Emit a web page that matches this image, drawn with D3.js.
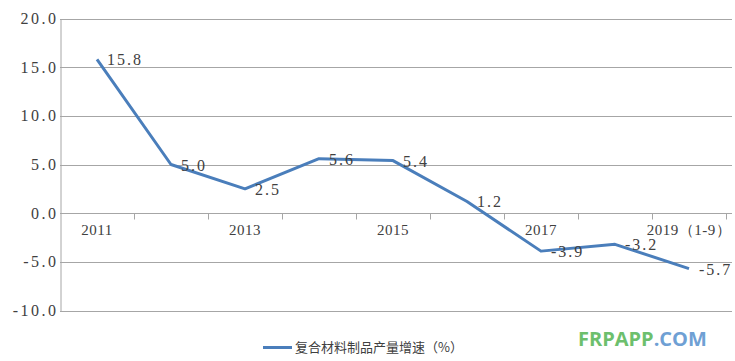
<!DOCTYPE html>
<html><head><meta charset="utf-8">
<script src="https://cdn.jsdelivr.net/npm/d3@7"></script>
<style>body{margin:0;background:#fff;}svg{display:block;}</style>
</head><body>
<svg id="c" width="735" height="361"></svg>
<script>
const categories = ["2011","2012","2013","2014","2015","2016","2017","2018","2019（1-9）"];
const shownLabels = ["2011","2013","2015","2017","2019（1-9）"];
const values = [15.8, 5.0, 2.5, 5.6, 5.4, 1.2, -3.9, -3.2, -5.7];
const yTicks = [-10, -5, 0, 5, 10, 15, 20];
const seriesName = "复合材料制品产量增速（%）";

(function () {
const svg = d3.select("#c");
const pl = 60, pr = 726, pt = 18.5, pb = 310.5;
const x = d3.scaleBand().domain(categories).range([pl, pr]).padding(0);
const y = d3.scaleLinear().domain([-10, 20]).range([pb, pt]);
const serif = "'Liberation Serif','DejaVu Serif',serif";
const grid = "#a6a6a6";
const txt = "#404040";

// gridlines
svg.append("g").selectAll("line").data(yTicks).join("line")
  .attr("x1", pl).attr("x2", pr + 6)
  .attr("y1", d => Math.round(y(d)) + 0.5).attr("y2", d => Math.round(y(d)) + 0.5)
  .attr("stroke", grid).attr("stroke-width", 1);

// y axis
const yAxis = d3.axisLeft(y).tickValues(yTicks).tickSize(0).tickPadding(2)
  .tickFormat(d => d3.format(".1f")(d).replace("−", "-"));
const gy = svg.append("g").attr("transform", `translate(${pl + 0.5},0)`).call(yAxis);
gy.select(".domain").attr("stroke", grid);
gy.selectAll("text").attr("font-family", serif).attr("font-size", 16).attr("fill", txt)
  .attr("letter-spacing", 2.5);

// x axis at zero
const zeroY = Math.round(y(0)) + 0.5;
const xAxis = d3.axisBottom(x).tickSize(0).tickFormat(d => shownLabels.includes(d) ? d : "");
const gx = svg.append("g").attr("transform", `translate(0,${zeroY})`).call(xAxis);
gx.select(".domain").remove();
gx.selectAll("text").attr("font-family", serif).attr("font-size", 15).attr("fill", txt)
  .attr("dy", "1.2em").attr("letter-spacing", 0.5);
// tick marks at band boundaries
const bounds = categories.map(c => x(c)).concat([pr]);
svg.append("g").selectAll("line").data(bounds.slice(1)).join("line")
  .attr("x1", d => Math.round(d) + 0.5).attr("x2", d => Math.round(d) + 0.5)
  .attr("y1", zeroY).attr("y2", zeroY + 6).attr("stroke", grid);

// line
const cx = d => x(d) + x.bandwidth() / 2;
const line = d3.line().x((d, i) => cx(categories[i])).y(d => y(d));
svg.append("path").datum(values).attr("d", line)
  .attr("fill", "none").attr("stroke", "#4a7ebb").attr("stroke-width", 3).attr("stroke-linejoin", "round");

// data labels
svg.append("g").selectAll("text").data(values).join("text")
  .attr("x", (d, i) => cx(categories[i]) + 10)
  .attr("y", d => y(d) + 6)
  .attr("font-family", serif).attr("font-size", 16).attr("fill", txt)
  .attr("letter-spacing", 2)
  .text(d => d3.format(".1f")(d).replace("−", "-"));

// legend
svg.append("line").attr("x1", 263).attr("x2", 292).attr("y1", 347.5).attr("y2", 347.5)
  .attr("stroke", "#4a7ebb").attr("stroke-width", 3);
svg.append("text").attr("x", 295).attr("y", 352)
  .attr("font-family", "'Noto Sans CJK SC',sans-serif").attr("font-size", 13).attr("fill", txt)
  .text(seriesName);

// watermark
const wm = svg.append("text").attr("x", 578).attr("y", 346)
  .attr("font-family", "'Open Sans',sans-serif").attr("font-weight", "bold").attr("font-size", 20);
wm.append("tspan").attr("fill", "#6dbf6d").text("FRPAPP");
wm.append("tspan").attr("fill", "#6fa0d4").text(".COM");
})();
</script>
</body></html>
